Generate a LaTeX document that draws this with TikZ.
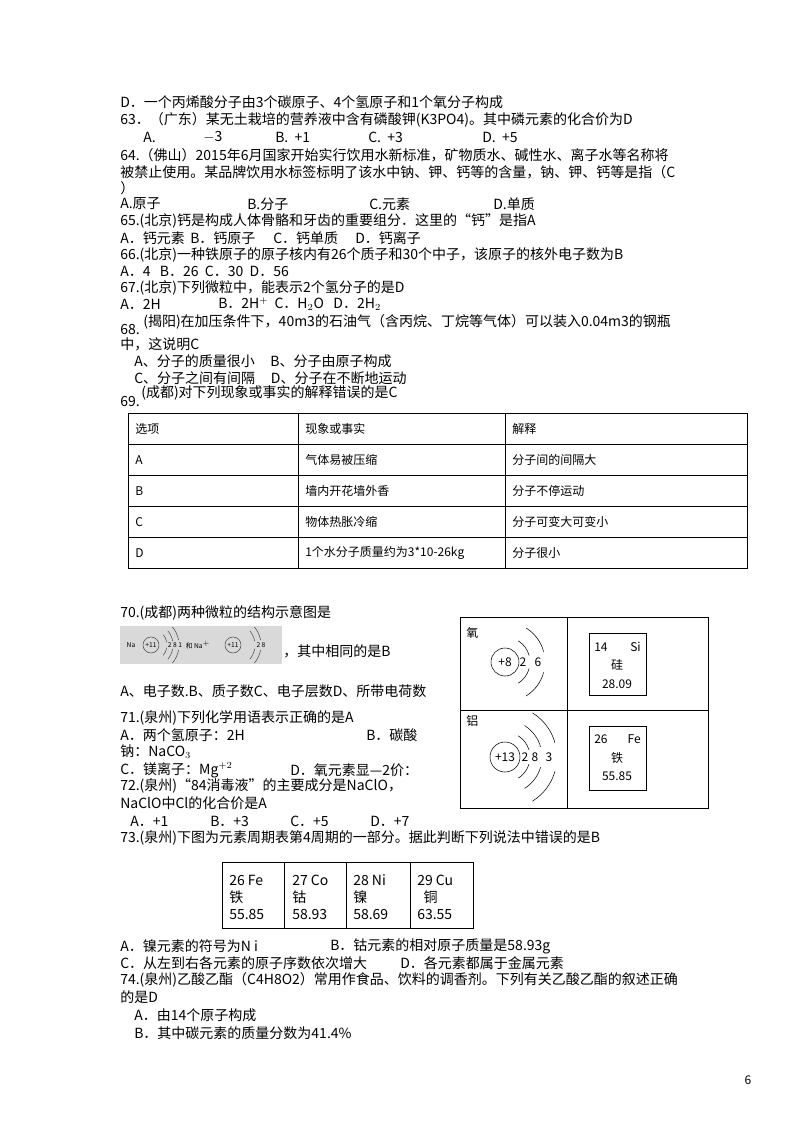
\documentclass[tikz,border=0pt]{standalone}
\usepackage{fontspec}
\setmainfont{Noto Sans CJK SC}
\begin{document}
\begin{tikzpicture}[x=0.75pt,y=-0.75pt,
  t/.style={anchor=west,inner sep=0pt,font=\fontsize{10.5}{12}\selectfont},
  s/.style={anchor=west,inner sep=0pt,font=\fontsize{9}{11}\selectfont},
  ln/.style={line width=0.6pt}]
\useasboundingbox[fill=white] (0,0) rectangle (800,1132);
\node[t] (l1) at (120,102) {D．一个丙烯酸分子由3个碳原子、4个氢原子和1个氧分子构成};
\node[t] (l2) at (120,120) {63．（广东）某无土栽培的营养液中含有磷酸钾(K3PO4)。其中磷元素的化合价为D};
\node[t] (l3a) at (143,137) {A.};
\node[t] (l3b) at (203,137) {$-$3};
\node[t] (l3c) at (275,137) {B.\ \ +1};
\node[t] (l3d) at (368,137) {C.\ \ +3};
\node[t] (l3e) at (482,137) {D.\ \ +5};
\node[t] (l4) at (120,155) {64.（佛山）2015年6月国家开始实行饮用水新标准，矿物质水、碱性水、离子水等名称将};
\node[t] (l5) at (120,172) {被禁止使用。某品牌饮用水标签标明了该水中钠、钾、钙等的含量，钠、钾、钙等是指（C};
\node[t] (l6) at (120,188) {）};
\node[t] (l7a) at (120,204) {A.原子};
\node[t] (l7b) at (247,204) {B.分子};
\node[t] (l7c) at (369,204) {C.元素};
\node[t] (l7d) at (493,204) {D.单质};
\node[t] (l8) at (120,221) {65.(北京)钙是构成人体骨骼和牙齿的重要组分．这里的“钙”是指A};
\node[t] (l9a) at (120,238) {A．钙元素};
\node[t] (l9b) at (190,238) {B．钙原子};
\node[t] (l9c) at (273,238) {C．钙单质};
\node[t] (l9d) at (355,238) {D．钙离子};
\node[t] (l10) at (120,255) {66.(北京)一种铁原子的原子核内有26个质子和30个中子，该原子的核外电子数为B};
\node[t] (l11) at (120,271) {A．4\ \ \ B．26\ \ C．30\ \ D．56};
\node[t] (l12) at (120,288) {67.(北京)下列微粒中，能表示2个氢分子的是D};
\node[t] (l13a) at (120,304) {A．2H};
\node[t] (l13b) at (218,304) {B．2H$^+$\ \ C．H$_2$O\ \ \ D．2H$_2$};
\node[t] (l14a) at (120,330) {68.};
\node[t] (l14b) at (143,322) {(揭阳)在加压条件下，40m3的石油气（含丙烷、丁烷等气体）可以装入0.04m3的钢瓶};
\node[t] (l15) at (120,344) {中，这说明C};
\node[t] (l16) at (134,361) {A、分子的质量很小\ \ \ \ \ B、分子由原子构成};
\node[t] (l17) at (134,378) {C、分子之间有间隔\ \ \ \ \ D、分子在不断地运动};
\node[t] (l18a) at (120,402) {69.};
\node[t] (l18b) at (141,393) {(成都)对下列现象或事实的解释错误的是C};
% table 69
\draw[ln] (128,413) rectangle (747,568);
\foreach \yy in {444,475,506,537} \draw[ln] (128,\yy) -- (747,\yy);
\draw[ln] (298,413) -- (298,568);
\draw[ln] (505,413) -- (505,568);
\node[s] (h1) at (135,429) {选项};
\node[s] (h2) at (305,429) {现象或事实};
\node[s] (h3) at (512,429) {解释};
\node[s] (a1) at (135,460) {A};
\node[s] (a2) at (305,460) {气体易被压缩};
\node[s] (a3) at (512,460) {分子间的间隔大};
\node[s] (b1) at (135,491) {B};
\node[s] (b2) at (305,491) {墙内开花墙外香};
\node[s] (b3) at (512,491) {分子不停运动};
\node[s] (c1) at (135,522) {C};
\node[s] (c2) at (305,522) {物体热胀冷缩};
\node[s] (c3) at (512,522) {分子可变大可变小};
\node[s] (d1) at (135,553) {D};
\node[s] (d2) at (305,553) {1个水分子质量约为3*10-26kg};
\node[s] (d3) at (512,553) {分子很小};
% 70
\node[t] (m1) at (120,613) {70.(成都)两种微粒的结构示意图是};
\fill[gray!30] (120,626) rectangle (282,664);
\node[inner sep=0pt,font=\fontsize{5}{6}\selectfont] (na1) at (131,645) {Na};
\draw[gray!60!black] (151,645) circle (8);
\node[inner sep=0pt,font=\fontsize{5}{6}\selectfont] (n1) at (151,645) {+11};
\node[inner sep=0pt,font=\fontsize{5}{6}\selectfont] (e1) at (175,645) {2\ 8\ 1};
\foreach \r in {16,22,28} {\draw[gray!60!black] (151,645) ++(40:\r) arc (40:10:\r); \draw[gray!60!black] (151,645) ++(-40:\r) arc (-40:-10:\r);}
\node[inner sep=0pt,font=\fontsize{5}{6}\selectfont] (he) at (198,645) {和 Na$^+$};
\draw[gray!60!black] (233,645) circle (8);
\node[inner sep=0pt,font=\fontsize{5}{6}\selectfont] (n2) at (233,645) {+11};
\node[inner sep=0pt,font=\fontsize{5}{6}\selectfont] (e2) at (261,645) {2\ 8};
\foreach \r in {22,28} {\draw[gray!60!black] (233,645) ++(40:\r) arc (40:10:\r); \draw[gray!60!black] (233,645) ++(-40:\r) arc (-40:-10:\r);}
\node[t] (m2) at (283,651) {，其中相同的是B};
\node[t] (m3) at (120,691) {A、电子数.B、质子数C、电子层数D、所带电荷数};
\node[t] (m4) at (120,718) {71.(泉州)下列化学用语表示正确的是A};
\node[t] (m5a) at (120,735) {A．两个氢原子：2H};
\node[t] (m5b) at (366,735) {B．碳酸};
\node[t] (m6) at (120,752) {钠：NaCO$_3$};
\node[t] (m7a) at (120,770) {C．镁离子：Mg$^{+2}$};
\node[t] (m7b) at (290,770) {D．氧元素显—2价：};
\node[t] (m8) at (120,786) {72.(泉州)“84消毒液”的主要成分是NaClO，};
\node[t] (m9) at (120,803) {NaClO中Cl的化合价是A};
\node[t] (m10a) at (130,821) {A．+1};
\node[t] (m10b) at (210,821) {B．+3};
\node[t] (m10c) at (290,821) {C．+5};
\node[t] (m10d) at (370,821) {D．+7};
\node[t] (m11) at (120,838) {73.(泉州)下图为元素周期表第4周期的一部分。据此判断下列说法中错误的是B};
% right panel
\draw[ln] (460,617) rectangle (708,808);
\draw[ln] (567,617) -- (567,808);
\draw[ln] (460,710) -- (708,710);
\node[s] (ox) at (466,633) {氧};
\draw (505,662) circle (14);
\node[s,anchor=center] (ox8) at (505,662) {+8};
\node[s,anchor=center] (ox2) at (523,662) {2};
\node[s,anchor=center] (ox6) at (538,662) {6};
\foreach \r in {25,40} {\draw (505,662) ++(58:\r) arc (58:15:\r); \draw (505,662) ++(-58:\r) arc (-58:-15:\r);}
\node[s] (al) at (466,721) {铝};
\draw (505,757) circle (15);
\node[s,anchor=center] (al13) at (505,757) {+13};
\node[s,anchor=center] (al2) at (525,757) {2};
\node[s,anchor=center] (al8) at (535,757) {8};
\node[s,anchor=center] (al3) at (549,757) {3};
\foreach \r in {25,37,52} {\draw (505,757) ++(58:\r) arc (58:16:\r); \draw (505,757) ++(-58:\r) arc (-58:-16:\r);}
\draw[ln] (589,633) rectangle (646,695);
\node[s] (si1) at (594,647) {14};
\node[s,anchor=east] (si2) at (641,647) {Si};
\node[s,anchor=center] (si3) at (617,665) {硅};
\node[s,anchor=center] (si4) at (617,684) {28.09};
\draw[ln] (589,726) rectangle (646,790);
\node[s] (fe1) at (594,739) {26};
\node[s,anchor=east] (fe2) at (641,739) {Fe};
\node[s,anchor=center] (fe3) at (617,758) {铁};
\node[s,anchor=center] (fe4) at (617,776) {55.85};
% periodic table
\draw[ln] (222,862) rectangle (473,928);
\foreach \xx in {284,346,410} \draw[ln] (\xx,862) -- (\xx,928);
\foreach \xx/\a/\b/\c in {229/26 Fe/铁/55.85, 292/27 Co/钴/58.93, 353/28 Ni/镍/58.69, 417/29 Cu/\ \ 铜/63.55} {
  \node[t] at (\xx,880) {\a};
  \node[t] at (\xx,897) {\b};
  \node[t] at (\xx,914) {\c};}
\node[t] (p1a) at (120,946) {A．镍元素的符号为N i};
\node[t] (p1b) at (330,946) {B．钴元素的相对原子质量是58.93g};
\node[t] (p2a) at (120,963) {C．从左到右各元素的原子序数依次增大};
\node[t] (p2b) at (400,963) {D．各元素都属于金属元素};
\node[t] (p3) at (120,980) {74.(泉州)乙酸乙酯（C4H8O2）常用作食品、饮料的调香剂。下列有关乙酸乙酯的叙述正确};
\node[t] (p4) at (120,997) {的是D};
\node[t] (p5) at (134,1015) {A．由14个原子构成};
\node[t] (p6) at (134,1033) {B．其中碳元素的质量分数为41.4\%};
\node[inner sep=0pt,font=\fontsize{9}{11}\selectfont] (pg) at (748,1080) {6};
\end{tikzpicture}
\end{document}
